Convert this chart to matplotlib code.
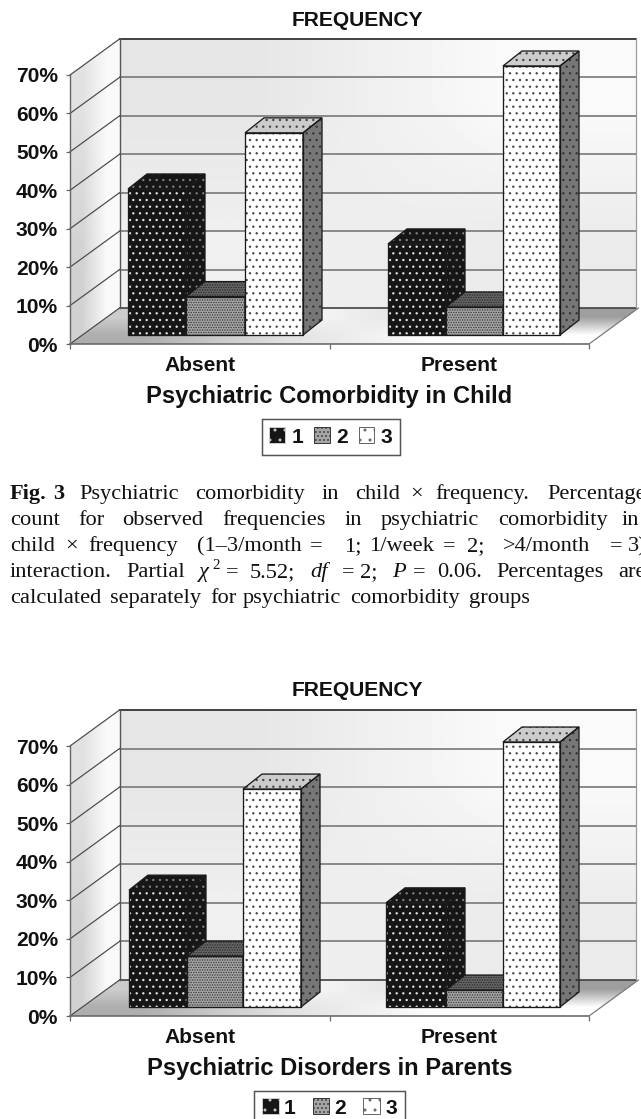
import matplotlib
matplotlib.use('Agg')
import matplotlib.pyplot as plt
from matplotlib.patches import Polygon, Patch
import numpy as np

W, H = 641, 1119
DPI = 120
PT = 72 / DPI   # one pixel in points

plt.rcParams['font.family'] = ['Liberation Sans', 'DejaVu Sans']
plt.rcParams['hatch.linewidth'] = 0.6

groups = ['Absent', 'Present']
freq_labels = ['1', '2', '3']
y_ticks = [0, 10, 20, 30, 40, 50, 60, 70]

# percentages, one list per group, frequency 1, 2, 3
child_absent = [38, 10, 52.6]
child_present = [23.7, 7.3, 70]
parents_absent = [30.3, 13.2, 56.5]
parents_present = [27, 4.4, 68.7]

caption = [
    (499, [('Fig.', 10, 'b'), ('3', 53, 'b'), ('Psychiatric', 79, ''), ('comorbidity', 195, ''), ('in', 322, ''),
           ('child', 355, ''), ('\u00d7', 410, ''), ('frequency.', 435, ''), ('Percentage', 547, '')]),
    (525, [('count', 10, ''), ('for', 78, ''), ('observed', 122, ''), ('frequencies', 222, ''), ('in', 345, ''),
           ('psychiatric', 381, ''), ('comorbidity', 498, ''), ('in', 622, '')]),
    (551, [('child', 10, ''), ('\u00d7', 65, ''), ('frequency', 88, ''), ('(1\u20133/month', 197, ''), ('=', 310, ''),
           ('1;', 345, ''), ('1/week', 370, ''), ('=', 443, ''), ('2;', 467, ''), ('>4/month', 503, ''),
           ('=', 610, ''), ('3)', 628, '')]),
    (577, [('interaction.', 10, ''), ('Partial', 126, ''), ('\u03c7', 199, 'i'), ('=', 226, ''), ('5.52;', 250, ''),
           ('df', 310, 'i'), ('=', 342, ''), ('2;', 360, ''), ('P', 392, 'i'), ('=', 413, ''), ('0.06.', 437, ''),
           ('Percentages', 496, ''), ('are', 618, '')]),
    (603, [('calculated', 10, ''), ('separately', 110, ''), ('for', 210, ''), ('psychiatric', 243, ''),
           ('comorbidity', 350, ''), ('groups', 469, '')]),
]

fig = plt.figure(figsize=(W / DPI, H / DPI), dpi=DPI, facecolor='white')


def gradient(ax, pts, arr, z):
    pts = np.array(pts)
    im = ax.imshow(np.array(arr), cmap='gray', vmin=0, vmax=1, origin='lower', aspect='auto',
                   interpolation='bilinear', zorder=z,
                   extent=[pts[:, 0].min(), pts[:, 0].max(), pts[:, 1].min(), pts[:, 1].max()])
    im.set_clip_path(Polygon(pts, transform=ax.transData))
    im.set_clip_box(fig.bbox)


def box(ax, x, val, w, base, dx, dy, z, front, top, side):
    # front face, then the slanted top and side
    ax.bar(x, val, w, bottom=base, align='edge', color=front[0], edgecolor=front[1], hatch=front[2],
           linewidth=0, zorder=z, clip_on=False)
    ax.bar(x, val, w, bottom=base, align='edge', fill=False, edgecolor='#1a1a1a', linewidth=1.3 * PT,
           zorder=z + 0.1, clip_on=False)
    t = base + val
    top_pts = [(x, t), (x + dx, t + dy), (x + w + dx, t + dy), (x + w, t)]
    side_pts = [(x + w, t), (x + w + dx, t + dy), (x + w + dx, base + dy), (x + w, base)]
    for pts, st in ((side_pts, side), (top_pts, top)):
        ax.add_patch(Polygon(pts, facecolor=st[0], edgecolor=st[1], hatch=st[2], linewidth=0, zorder=z, clip_on=False))
        ax.add_patch(Polygon(pts, fill=False, edgecolor='#1a1a1a', linewidth=1.3 * PT, zorder=z + 0.1, clip_on=False))


def draw_chart(y0, y70, title_y, xlabel, values, lefts, widths, legend_cy, legend_cx, legend_opts):
    left, right = 70, 589
    ax = fig.add_axes([left / W, 1 - y0 / H, (right - left) / W, (y0 - y70) / H])
    ax.patch.set_alpha(0)
    kx = 2 / (right - left)
    ky = 70 / (y0 - y70)
    wall_dx = 49.5 * kx
    wall_dy = 36 * ky

    gradient(ax, [(wall_dx, wall_dy), (2 + wall_dx - 3 * kx, wall_dy), (2 + wall_dx - 3 * kx, 70 + wall_dy), (wall_dx, 70 + wall_dy)],
             [[.94, .92], [.90, .98]], 1)
    gradient(ax, [(0, 0), (wall_dx, wall_dy), (wall_dx, 70 + wall_dy), (0, 70)],
             [[.82, .98], [.88, .98]], 1)
    gradient(ax, [(0, 0), (wall_dx, wall_dy), (2 + wall_dx, wall_dy), (2, 0)],
             [[.68, .88, .98, 1.0], [.8, .98, .88, .62]], 1)
    ax.set_xlim(0, 2)
    ax.set_ylim(0, 70)

    # wall grid lines
    for v in y_ticks:
        col = '#7a7a7a' if v else '#444444'
        if v < 70:
            ax.plot([wall_dx, 2 + wall_dx - 3 * kx], [v + wall_dy, v + wall_dy], color=col, lw=1.7 * PT, zorder=2, clip_on=False)
        ax.plot([0, wall_dx], [v, v + wall_dy], color='#4a4a4a', lw=1.2 * PT, zorder=2, clip_on=False)
    ax.plot([wall_dx, 2 + wall_dx - 3 * kx], [70 + wall_dy] * 2, color='#333333', lw=1.8 * PT, zorder=2, clip_on=False)
    ax.plot([wall_dx, wall_dx], [wall_dy, 70 + wall_dy], color='#555555', lw=1.4 * PT, zorder=2, clip_on=False)
    ax.plot([2 + wall_dx - 3 * kx] * 2, [wall_dy, 70 + wall_dy], color='#999999', lw=1.2 * PT, zorder=2, clip_on=False)
    ax.plot([0, 0], [0, 70], color='#666666', lw=1.4 * PT, zorder=2, clip_on=False)
    ax.plot([0, 2], [0, 0], color='#666666', lw=1.6 * PT, zorder=2, clip_on=False)
    ax.plot([2, 2 + wall_dx], [0, wall_dy], color='#777777', lw=1.2 * PT, zorder=2, clip_on=False)

    styles = [
        (('#161616', '#e4e4e4', '...'), ('#161616', '#808080', '...'), ('#161616', '#808080', '...')),
        (('#a6a6a6', '#3a3a3a', '........'), ('#666666', '#2a2a2a', '........'), ('#666666', '#2a2a2a', '........')),
        (('#ffffff', '#444444', '...'), ('#cccccc', '#444444', '...'), ('#777777', '#333333', '...')),
    ]
    base = 9 * ky
    z = 3
    for g in range(2):
        for s in range(3):
            x = (lefts[g][s] - left) * kx
            w = widths[g][s] * kx
            box(ax, x, values[g][s], w, base, 19 * kx, 15 * ky, z, *styles[s])
            z += 1

    for sp in ax.spines.values():
        sp.set_visible(False)
    ax.set_yticks(y_ticks)
    ax.set_yticklabels([f'{v}%' for v in y_ticks], fontsize=21 * PT, fontweight='bold', color='#111111')
    ax.tick_params(axis='y', length=4 * PT, width=1.2 * PT, color='#666666', pad=8 * PT)
    ax.set_xticks([0, 1, 2])
    ax.set_xticklabels(['', '', ''])
    ax.tick_params(axis='x', which='major', length=5 * PT, width=1.2 * PT, color='#666666')
    ax.set_xticks([0.5, 1.5], minor=True)
    ax.set_xticklabels(groups, minor=True, fontsize=21 * PT, fontweight='bold', color='#111111')
    ax.tick_params(axis='x', which='minor', length=0, pad=12 * PT)
    ax.set_xlabel(xlabel, fontsize=23.7 * PT, fontweight='bold', color='#111111', va='center')
    ax.xaxis.set_label_coords(0.5, -52 / (y0 - y70))

    fig.text(357.5 / W, 1 - title_y / H, 'FREQUENCY', fontsize=21 * PT, fontweight='bold', color='#111111',
             ha='center', va='center')

    handles = [Patch(facecolor='#161616', edgecolor='#cccccc', hatch='..', linewidth=0.6),
               Patch(facecolor='#a6a6a6', edgecolor='#3a3a3a', hatch='.....', linewidth=0.6),
               Patch(facecolor='#ffffff', edgecolor='#666666', hatch='..', linewidth=0.6)]
    leg = ax.legend(handles, freq_labels, ncol=3, loc='center', bbox_to_anchor=(legend_cx / W, 1 - legend_cy / H),
                    bbox_transform=fig.transFigure, fancybox=False, framealpha=1, edgecolor='#555555',
                    prop={'weight': 'bold', 'size': 21 * PT}, **legend_opts)
    leg.get_frame().set_linewidth(1.5 * PT)
    for t in leg.get_texts():
        t.set_color('#111111')


draw_chart(344, 75, 20, 'Psychiatric Comorbidity in Child', [child_absent, child_present],
           [[128, 186, 245], [388, 446, 503]], [[58, 59, 58], [58, 57, 57]], 437, 331,
           dict(handlelength=0.76, handleheight=0.76, handletextpad=0.3, columnspacing=0.5, borderpad=0.38, borderaxespad=0))
draw_chart(1016, 746, 690, 'Psychiatric Disorders in Parents', [parents_absent, parents_present],
           [[129, 187, 243], [386, 446, 503]], [[58, 56, 58], [60, 57, 57]], 1108, 329.5,
           dict(handlelength=0.8, handleheight=0.8, handletextpad=0.25, columnspacing=0.8, borderpad=0.36, borderaxespad=0))

# caption words sit where the justified lines put them
for y, words in caption:
    for word, x, st in words:
        fig.text(x / W, 1 - y / H, word, family='Liberation Serif', fontsize=22.4 * PT, color='#111111',
                 fontweight='bold' if st == 'b' else 'normal', fontstyle='italic' if st == 'i' else 'normal',
                 ha='left', va='baseline')
fig.text(212 / W, 1 - 569 / H, '2', family='Liberation Serif', fontsize=15 * PT, color='#111111', ha='left', va='baseline')

fig.savefig('out.png', dpi=DPI)
